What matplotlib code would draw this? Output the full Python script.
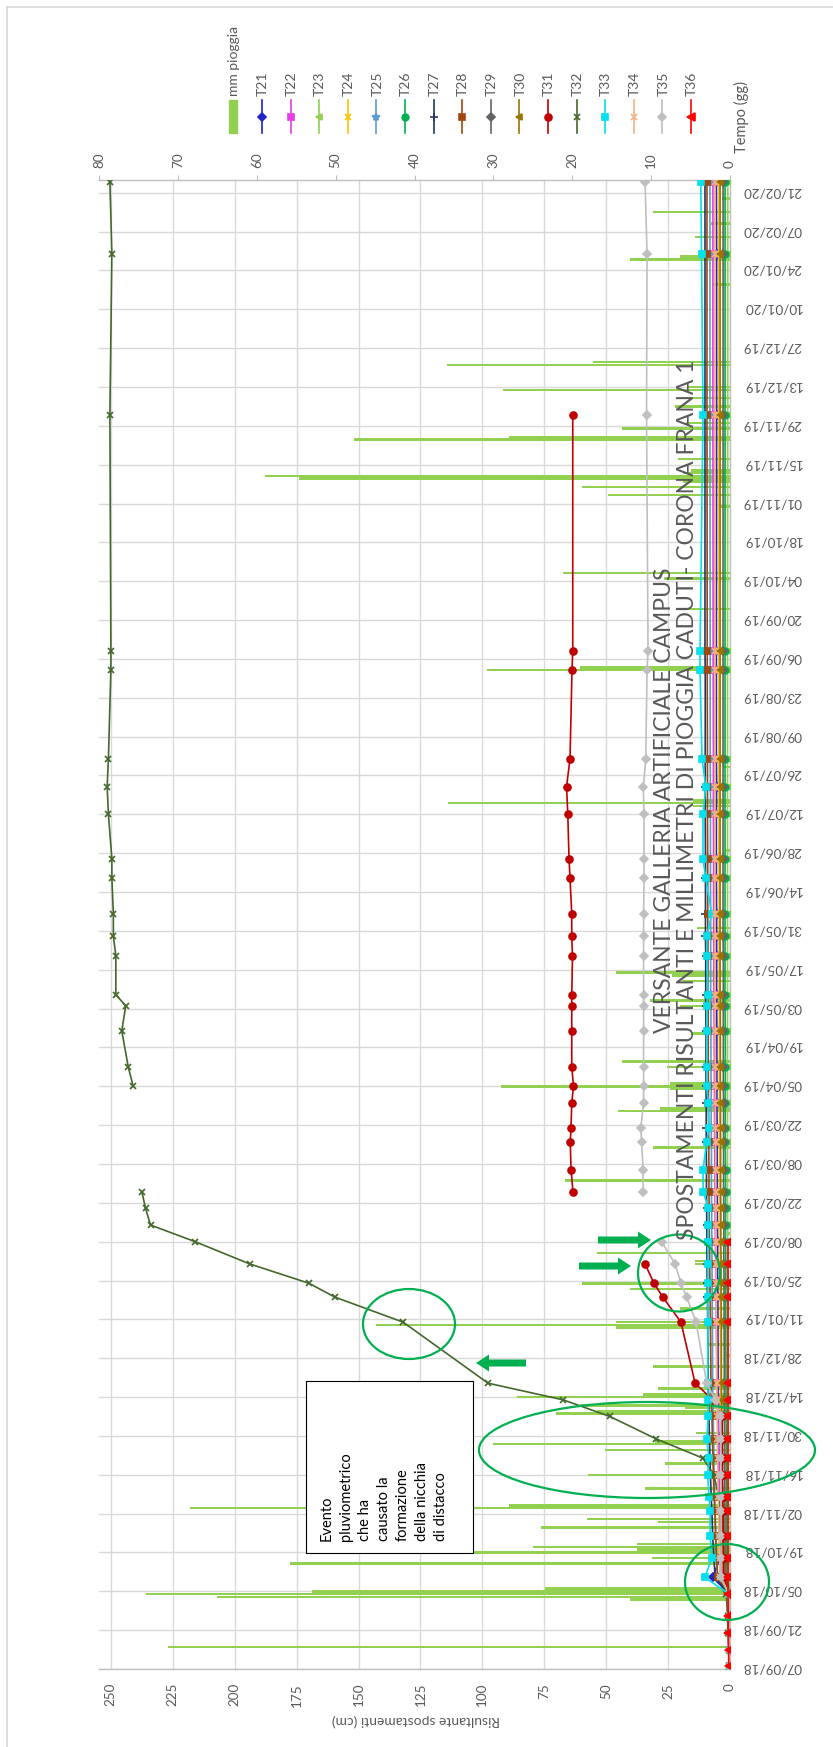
import matplotlib
matplotlib.use("Agg")
import matplotlib.pyplot as plt
import matplotlib.dates as mdates
import matplotlib.transforms as mtrans
from matplotlib.patches import Ellipse, Rectangle, FancyArrow
from matplotlib.lines import Line2D
import numpy as np
import pandas as pd

plt.rcParams['font.family'] = ['Lato', 'DejaVu Sans']

# ---------------- DATA ----------------
meas_dates = ["2018-09-08", "2018-09-14", "2018-09-20", "2018-09-26", "2018-10-04",
              "2018-10-10", "2018-10-17", "2018-10-25", "2018-11-03", "2018-11-08",
              "2018-11-16", "2018-11-22", "2018-11-29", "2018-12-07", "2018-12-13",
              "2018-12-19", "2019-01-10", "2019-01-19", "2019-01-24", "2019-01-31",
              "2019-02-08", "2019-02-14", "2019-02-20", "2019-02-26", "2019-03-06",
              "2019-03-16", "2019-03-21", "2019-03-30", "2019-04-05", "2019-04-12",
              "2019-04-25", "2019-05-04", "2019-05-08", "2019-05-22", "2019-05-29",
              "2019-06-06", "2019-06-19", "2019-06-26", "2019-07-12", "2019-07-22",
              "2019-08-01", "2019-09-02", "2019-09-09", "2019-12-03", "2020-01-30",
              "2020-02-25"]

T21 = [0.0, 0.0, 0.1, 0.1, 0.2, 7.0, 4.0, 4.2, 4.3, 4.4, 4.5, 4.5, 4.6, 4.7, 4.7, 4.8,
       4.9, 4.9, 5.0, 5.0, 5.0, 5.1, 5.1, 5.1, 5.2, 5.2, 5.2, 5.3, 5.3, 5.3, 5.3, 5.4,
       5.4, 5.4, 5.4, 5.4, 5.5, 5.5, 5.5, 5.4, 5.5, 5.5, 5.5, 5.4, 5.4, 5.5]
T22 = [0.0, 0.0, 0.0, 0.1, 0.2, 3.0, 3.5, 3.8, 4.0, 4.2, 4.4, 4.5, 4.7, 4.9, 5.0, 5.2,
       5.5, 5.6, 5.7, 5.8, 5.9, 6.0, 6.0, 6.1, 6.1, 6.2, 6.2, 6.3, 6.3, 6.3, 6.4, 6.4,
       6.5, 6.5, 6.5, 6.6, 6.6, 6.6, 6.7, 6.7, 6.7, 6.8, 6.8, 6.9, 6.9, 6.9]
T23 = [0.0, 0.0, 0.0, 0.0, 0.1, 0.5, 0.6, 0.6, 0.7, 0.7, 0.7, 0.8, 0.8, 0.8, 0.8, 0.8,
       0.9, 0.9, 0.9, 0.9, 0.9, 0.9, 1.0, 1.0, 1.0, 1.0, 1.0, 1.0, 1.0, 1.0, 1.0, 1.0,
       1.0, 1.0, 1.0, 1.0, 1.0, 1.0, 1.0, 1.0, 1.0, 1.0, 1.0, 0.9, 0.9, 0.9]
T24 = [0.0, 0.0, 0.0, 0.1, 0.1, 2.5, 2.8, 3.0, 3.1, 3.2, 3.3, 3.4, 3.5, 3.6, 3.7, 3.8,
       3.9, 3.9, 4.0, 4.0, 4.0, 4.1, 4.1, 4.1, 4.2, 4.2, 4.2, 4.2, 4.3, 4.3, 4.3, 4.3,
       4.4, 4.4, 4.4, 4.4, 4.4, 4.5, 4.5, 4.5, 4.5, 4.5, 4.5, 4.5, 4.5, 4.5]
T25 = [0.0, 0.0, 0.0, 0.1, 0.2, 5.0, 5.5, 5.8, 6.0, 6.2, 6.4, 6.5, 6.6, 6.8, 6.9, 7.0,
       7.1, 7.2, 7.2, 7.3, 7.3, 7.4, 7.4, 7.5, 7.5, 7.5, 7.6, 7.6, 7.6, 7.7, 7.7, 7.7,
       7.8, 7.8, 7.8, 7.8, 7.9, 7.9, 7.9, 7.9, 8.0, 8.0, 8.0, 8.1, 8.1, 8.1]
T26 = [0.0, 0.0, 0.0, 0.0, 0.1, 1.2, 1.3, 1.3, 1.4, 1.4, 1.5, 1.5, 1.5, 1.6, 1.6, 1.6,
       1.7, 1.7, 1.7, 1.7, 1.8, 1.8, 1.8, 1.8, 1.8, 1.9, 1.9, 1.9, 1.9, 1.9, 1.9, 2.0,
       2.0, 2.0, 2.0, 2.0, 2.0, 2.0, 2.0, 2.0, 2.0, 2.0, 2.0, 2.0, 2.0, 2.0]
T27 = [0.0, 0.0, 0.1, 0.1, 0.2, 6.0, 6.5, 7.0, 7.3, 7.6, 7.9, 8.1, 8.3, 8.5, 8.6, 8.8,
       9.0, 9.1, 9.2, 9.3, 9.3, 9.4, 9.4, 9.5, 9.5, 9.6, 9.6, 9.6, 9.7, 9.7, 9.7, 9.8,
       9.8, 9.8, 9.9, 9.9, 9.9, 9.9, 10.0, 10.0, 10.0, 10.0, 10.1, 10.1, 10.1, 10.1]
T28 = [0.0, 0.0, 0.0, 0.1, 0.2, 5.0, 5.4, 5.8, 6.1, 6.4, 6.7, 6.9, 7.1, 7.3, 7.5, 7.7,
       7.9, 8.0, 8.1, 8.2, 8.3, 8.4, 8.4, 8.5, 8.5, 8.6, 8.6, 8.7, 8.7, 8.8, 8.8, 8.8,
       8.9, 8.9, 8.9, 9.0, 9.0, 9.0, 9.1, 9.1, 9.1, 9.2, 9.2, 9.3, 9.3, 9.3]
T29 = [0.0, 0.0, 0.0, 0.0, 0.1, 1.8, 1.9, 2.0, 2.0, 2.1, 2.1, 2.2, 2.2, 2.3, 2.3, 2.3,
       2.4, 2.4, 2.4, 2.5, 2.5, 2.5, 2.5, 2.6, 2.6, 2.6, 2.6, 2.6, 2.7, 2.7, 2.7, 2.7,
       2.7, 2.7, 2.8, 2.8, 2.8, 2.8, 2.8, 2.8, 2.8, 2.8, 2.8, 2.8, 2.8, 2.8]
T30 = [0.0, 0.0, 0.0, 0.1, 0.1, 2.5, 2.7, 2.9, 3.0, 3.1, 3.2, 3.3, 3.3, 3.4, 3.4, 3.5,
       3.5, 3.6, 3.6, 3.6, 3.7, 3.7, 3.7, 3.8, 3.8, 3.8, 3.8, 3.9, 3.9, 3.9, 3.9, 3.9,
       4.0, 4.0, 4.0, 4.0, 4.0, 4.0, 4.0, 4.0, 4.0, 4.0, 4.0, 4.0, 4.0, 4.0]
T31 = [0.0, 0.0, 0.1, 0.1, 0.2, 2.5, 2.6, 2.7, 2.8, 2.9, 3.0, 3.0, 3.1, 3.2, 7.0, 14.1,
       19.8, 27.1, 30.7, 34.3, None, None, None, 63.4, 64.2, 64.5, 64.2, 63.9, 63.2, 63.9,
       63.9, 63.9, 63.9, 63.6, 63.9, 63.9, 64.6, 65.0, 65.5, 66.0, 64.6, 63.8, 63.5, 63.5,
       None, None]
T32 = [0.3, 0.5, 0.8, 1.0, 1.5, 3.5, 3.8, 4.0, 4.2, 4.5, 6.5, 11.0, 30.0, 48.5, 67.4, 97.7,
       132.0, 159.5, 170.0, 194.0, 216.0, 234.0, 236.0, 237.5, None, None, None, None,
       241.0, 243.0, 245.6, 244.0, 248.0, 248.0, 249.0, 249.0, 249.6, 249.6, 251.0, 251.5,
       251.0, 250.0, 250.0, 250.4, 249.6, 250.4]
T33 = [0.0, 0.0, 0.0, 0.0, 0.5, 10.1, 7.4, 8.0, 8.0, 8.5, 9.0, 8.5, 9.4, 8.8, 8.8, 9.0,
       8.9, 8.9, 8.9, 8.9, 8.9, 8.7, 8.7, 10.8, 10.9, 9.4, 8.5, 8.8, 9.4, 9.4, 9.4, 9.4,
       8.8, 9.4, 9.4, 7.4, 9.8, 10.9, 10.9, 9.8, 11.3, 12.1, 12.1, 10.9, 11.5, 11.8]
T34 = [0.0, 0.0, 0.0, 0.1, 0.2, 4.0, 4.2, 4.4, 4.6, 4.8, 4.9, 5.0, 5.1, 5.2, 5.3, 5.4,
       5.5, 5.5, 5.6, 5.6, 5.7, 5.7, 5.7, 5.8, 5.8, 5.8, 5.9, 5.9, 5.9, 5.9, 6.0, 6.0,
       6.0, 6.0, 6.0, 6.1, 6.1, 6.1, 6.1, 6.1, 6.1, 6.1, 6.1, 6.1, 6.1, 6.1]
T35 = [0.0, 0.1, 0.2, 0.3, 0.5, 3.6, 3.6, 3.6, 3.6, 3.6, 3.7, 3.7, 3.7, 3.8, 6.0, 9.4,
       13.7, 17.5, 19.8, 22.2, 27.6, None, None, 35.1, 35.1, 35.7, 36.0, 34.9, 34.9, 34.9,
       34.9, 34.9, 34.9, 34.9, 34.9, 34.9, 34.7, 34.7, 34.7, 35.0, 34.0, 33.5, 33.1, 33.7,
       33.5, 34.3]
T36 = [0.5, 0.6, 0.7, 0.7, 0.8, 0.8, 0.8, 0.8, 0.8, 0.8, 0.8, 0.8, 0.8, 0.8, 0.8, 0.8,
       0.8, 0.8, 0.8, 0.8, 0.8, None, None, None, None, None, None, None, None, None,
       None, None, None, None, None, None, None, None, None, None, None, None, None, None,
       None, None]

rain_dates = ["2018-09-15", "2018-10-02", "2018-10-03", "2018-10-04", "2018-10-05",
              "2018-10-06", "2018-10-15", "2018-10-17", "2018-10-19", "2018-10-20",
              "2018-10-21", "2018-10-22", "2018-10-28", "2018-10-30", "2018-10-31",
              "2018-11-04", "2018-11-05", "2018-11-11", "2018-11-16", "2018-11-20",
              "2018-11-25", "2018-11-27", "2018-11-28", "2018-12-01", "2018-12-08",
              "2018-12-09", "2018-12-10", "2018-12-11", "2018-12-14", "2018-12-15",
              "2018-12-17", "2018-12-25", "2018-12-29", "2019-01-02", "2019-01-08",
              "2019-01-09", "2019-01-10", "2019-01-15", "2019-01-22", "2019-01-24",
              "2019-01-31", "2019-02-01", "2019-02-04", "2019-02-11", "2019-03-02",
              "2019-03-14", "2019-03-27", "2019-03-28", "2019-04-04", "2019-04-05",
              "2019-04-06", "2019-04-12", "2019-04-14", "2019-04-24", "2019-05-04",
              "2019-05-06", "2019-05-13", "2019-05-15", "2019-05-16", "2019-06-01",
              "2019-06-29", "2019-07-15", "2019-07-16", "2019-07-17", "2019-07-29",
              "2019-09-02", "2019-09-03", "2019-09-24", "2019-10-05", "2019-10-07",
              "2019-10-31", "2019-11-04", "2019-11-07", "2019-11-09", "2019-11-10",
              "2019-11-11", "2019-11-12", "2019-11-13", "2019-11-17", "2019-11-24",
              "2019-11-25", "2019-11-28", "2019-11-30", "2019-12-06", "2019-12-09",
              "2019-12-12", "2019-12-13", "2019-12-21", "2019-12-22", "2020-01-19",
              "2020-01-28", "2020-01-29", "2020-02-05", "2020-02-10", "2020-02-14",
              "2020-02-19"]
rain_mm = [71.3, 12.7, 65.0, 74.0, 53.0,
           23.5, 55.8, 9.9, 37.0, 11.8,
           25.0, 11.8, 24.0, 9.1, 18.1,
           68.4, 28.0, 10.8, 18.0, 8.2,
           15.8, 30.0, 9.5, 4.3, 22.0,
           16.9, 5.7, 19.0, 27.0, 11.0,
           9.1, 9.8, 0.5, 2.8, 14.4,
           44.9, 14.4, 6.3, 12.7, 18.8,
           4.4, 4.4, 16.9, 0.4, 20.9,
           9.8, 14.2, 8.9, 7.6, 29.0,
           7.6, 8.0, 13.7, 4.9, 6.3,
           10.1, 6.1, 7.4, 14.4, 4.2,
           0.5, 4.7, 35.8, 4.7, 0.9,
           30.8, 19.0, 6.1, 8.4, 21.2,
           1.5, 15.5, 18.8, 6.0, 54.6,
           59.0, 6.0, 5.0, 6.6, 47.7,
           28.0, 13.7, 5.6, 7.0, 6.7,
           28.8, 5.3, 35.9, 17.4, 2.2,
           12.7, 6.3, 4.5, 2.4, 9.7,
           1.0]

disp_ticks = [0, 25, 50, 75, 100, 125, 150, 175, 200, 225, 250]
rain_ticks = [0, 10, 20, 30, 40, 50, 60, 70, 80]
date_tick_start, date_tick_end = "2018-09-07", "2020-02-21"

series = [
    ("T21", T21, "#2323C8", "D", 4.0),
    ("T22", T22, "#E83CE8", "s", 4.5),
    ("T23", T23, "#92D050", "<", 5.0),
    ("T24", T24, "#FFC000", "x", 5.0),
    ("T25", T25, "#5B9BD5", "*", 6.0),
    ("T26", T26, "#00B050", "o", 4.8),
    ("T27", T27, "#203864", "+", 6.0),
    ("T28", T28, "#9E480E", "s", 4.5),
    ("T29", T29, "#636363", "D", 4.0),
    ("T30", T30, "#997300", "<", 5.0),
    ("T31", T31, "#C00000", "o", 5.0),
    ("T32", T32, "#43682B", "x", 5.0),
    ("T33", T33, "#00E0EE", "s", 5.0),
    ("T34", T34, "#F4B183", "x", 5.0),
    ("T35", T35, "#BFBFBF", "D", 4.0),
    ("T36", T36, "#FF0000", "<", 5.5),
]

# ---------------- FIGURE ----------------
W, H, DPI = 833, 1747, 100
fig = plt.figure(figsize=(W / DPI, H / DPI), dpi=DPI)
px = mtrans.Affine2D().scale(1, -1).translate(0, H)   # pixel coords, origin top-left

GRID = "#D9D9D9"
AXC = "#BFBFBF"
TXT = "#595959"
GREEN = "#00B050"

L, R, T, B = 99, 730, 180, 1669
axr = fig.add_axes([L / W, 1 - B / H, (R - L) / W, (B - T) / H])
axd = axr.twiny()

start = mdates.date2num(pd.Timestamp("2018-09-07"))
axr.set_ylim(start, start + 536.6)
axr.set_xlim(80, 0)
axd.set_xlim(254.8, 0)

# date gridlines + ticks
dt = pd.date_range(date_tick_start, date_tick_end, freq="14D")
axr.set_yticks(mdates.date2num(dt))
axr.set_yticklabels([d.strftime("%d/%m/%y") for d in dt])
axr.yaxis.tick_right()
axr.tick_params(axis="y", left=False, right=False, labelleft=False, labelright=True,
                length=0, labelcolor=TXT, labelsize=9.7, labelrotation=180, pad=9)
shift_up = mtrans.ScaledTranslation(0, 0.025, fig.dpi_scale_trans)
for lab in axr.get_yticklabels():
    lab.set_transform(lab.get_transform() + shift_up)
axr.grid(axis="y", color=GRID, lw=1.0, zorder=0)
axr.set_axisbelow(True)

# displacement gridlines drawn below the bars
blend = mtrans.blended_transform_factory(axd.transData, axr.transAxes)
for d in disp_ticks:
    axr.add_line(Line2D([d, d], [0, 1], transform=blend, color=GRID, lw=1.0, zorder=0.5))

# rain bars
rd = mdates.date2num(pd.to_datetime(rain_dates))
axr.barh(rd, rain_mm, height=0.9, color="#92D050", zorder=2)

# displacement series
md = mdates.date2num(pd.to_datetime(meas_dates))
for name, vals, col, mk, ms in series:
    v = np.array([np.nan if a is None else a for a in vals], float)
    axd.plot(v, md, color=col, lw=1.2, marker=mk, ms=ms, mfc=col, mec=col, mew=1.2,
             zorder=3)

# axes ticks
axr.set_xticks(rain_ticks)
axr.xaxis.tick_top()
axr.tick_params(axis="x", top=True, bottom=False, labeltop=True, labelbottom=False,
                direction="out", length=3.6, width=0.8, color=AXC, labelcolor=TXT,
                labelsize=9.7, labelrotation=90, pad=5)
axd.set_xticks(disp_ticks)
axd.xaxis.tick_bottom()
axd.tick_params(axis="x", top=False, bottom=False, labeltop=False, labelbottom=True,
                length=0, labelcolor=TXT, labelsize=9.7, labelrotation=90, pad=10)

for s in ["left"]:
    axr.spines[s].set_visible(False)
for s in ["top", "right", "bottom"]:
    axr.spines[s].set_color(AXC)
    axr.spines[s].set_linewidth(1.0)
for s in axd.spines.values():
    s.set_visible(False)

# axis titles
fig.text(416, 1720, "Risultante spostamenti (cm)", transform=px, rotation=180,
         ha="center", va="center", fontsize=10, color=TXT)
fig.text(741, 153, "Tempo (gg)", transform=px, rotation=90, ha="center", va="bottom",
         fontsize=10.5, color=TXT)

# chart title
fig.text(676, 800, "VERSANTE GALLERIA ARTIFICIALE CAMPUS\n"
         "SPOSTAMENTI RISULTANTI E MILLIMETRI DI PIOGGIA CADUTI- CORONA FRANA 1",
         transform=px, rotation=90, ha="center", va="center", multialignment="center",
         fontsize=16.5, color=TXT, linespacing=1.15)

# legend (manual, rotated)
fig.add_artist(Rectangle((229, 100), 8, 33, transform=px, color="#92D050"))
fig.text(234, 96, "mm pioggia", transform=px, rotation=90, ha="center", va="bottom",
         fontsize=10, color=TXT)
for i, (name, vals, col, mk, ms) in enumerate(series):
    x = 262 + i * 28.6
    fig.add_artist(Line2D([x, x], [100, 133], transform=px, color=col, lw=1.2))
    fig.add_artist(Line2D([x], [116.5], transform=px, marker=mk, ms=ms, color=col,
                          mfc=col, mec=col, mew=1.2, ls="none"))
    fig.text(x + 1, 96, name, transform=px, rotation=90, ha="center", va="bottom",
             fontsize=10, color=TXT)

# annotations: ellipses
for cx, cy, w, h in [(409, 1324, 92, 70), (679, 1273, 82, 77),
                     (647, 1450, 336, 96), (727, 1582, 84, 76)]:
    fig.add_artist(Ellipse((cx, cy), w, h, transform=px, fill=False, ec=GREEN, lw=1.6))

# arrows
for x0, x1, y in [(526, 476, 1363), (598, 651, 1240), (579, 631, 1266)]:
    fig.add_artist(FancyArrow(x0, y, x1 - x0, 0, width=7, head_width=17, head_length=13,
                              length_includes_head=True, transform=px, color=GREEN, lw=0))

# text box
fig.add_artist(Rectangle((306, 1381), 167, 172, transform=px, fc="white", ec="black", lw=0.8))
fig.text(320, 1541, "Evento\npluviometrico\nche ha\ncausato la\nformazione\ndella nicchia\ndi distacco",
         transform=px, rotation=90, ha="left", va="bottom", multialignment="left",
         fontsize=10.5, color="black", linespacing=1.45)

# outer border
fig.add_artist(Line2D([7, 833], [7, 7], transform=px, color=GRID, lw=1.2))
fig.add_artist(Line2D([7, 7], [7, 1747], transform=px, color=GRID, lw=1.2))

fig.savefig("out.png", dpi=DPI)
